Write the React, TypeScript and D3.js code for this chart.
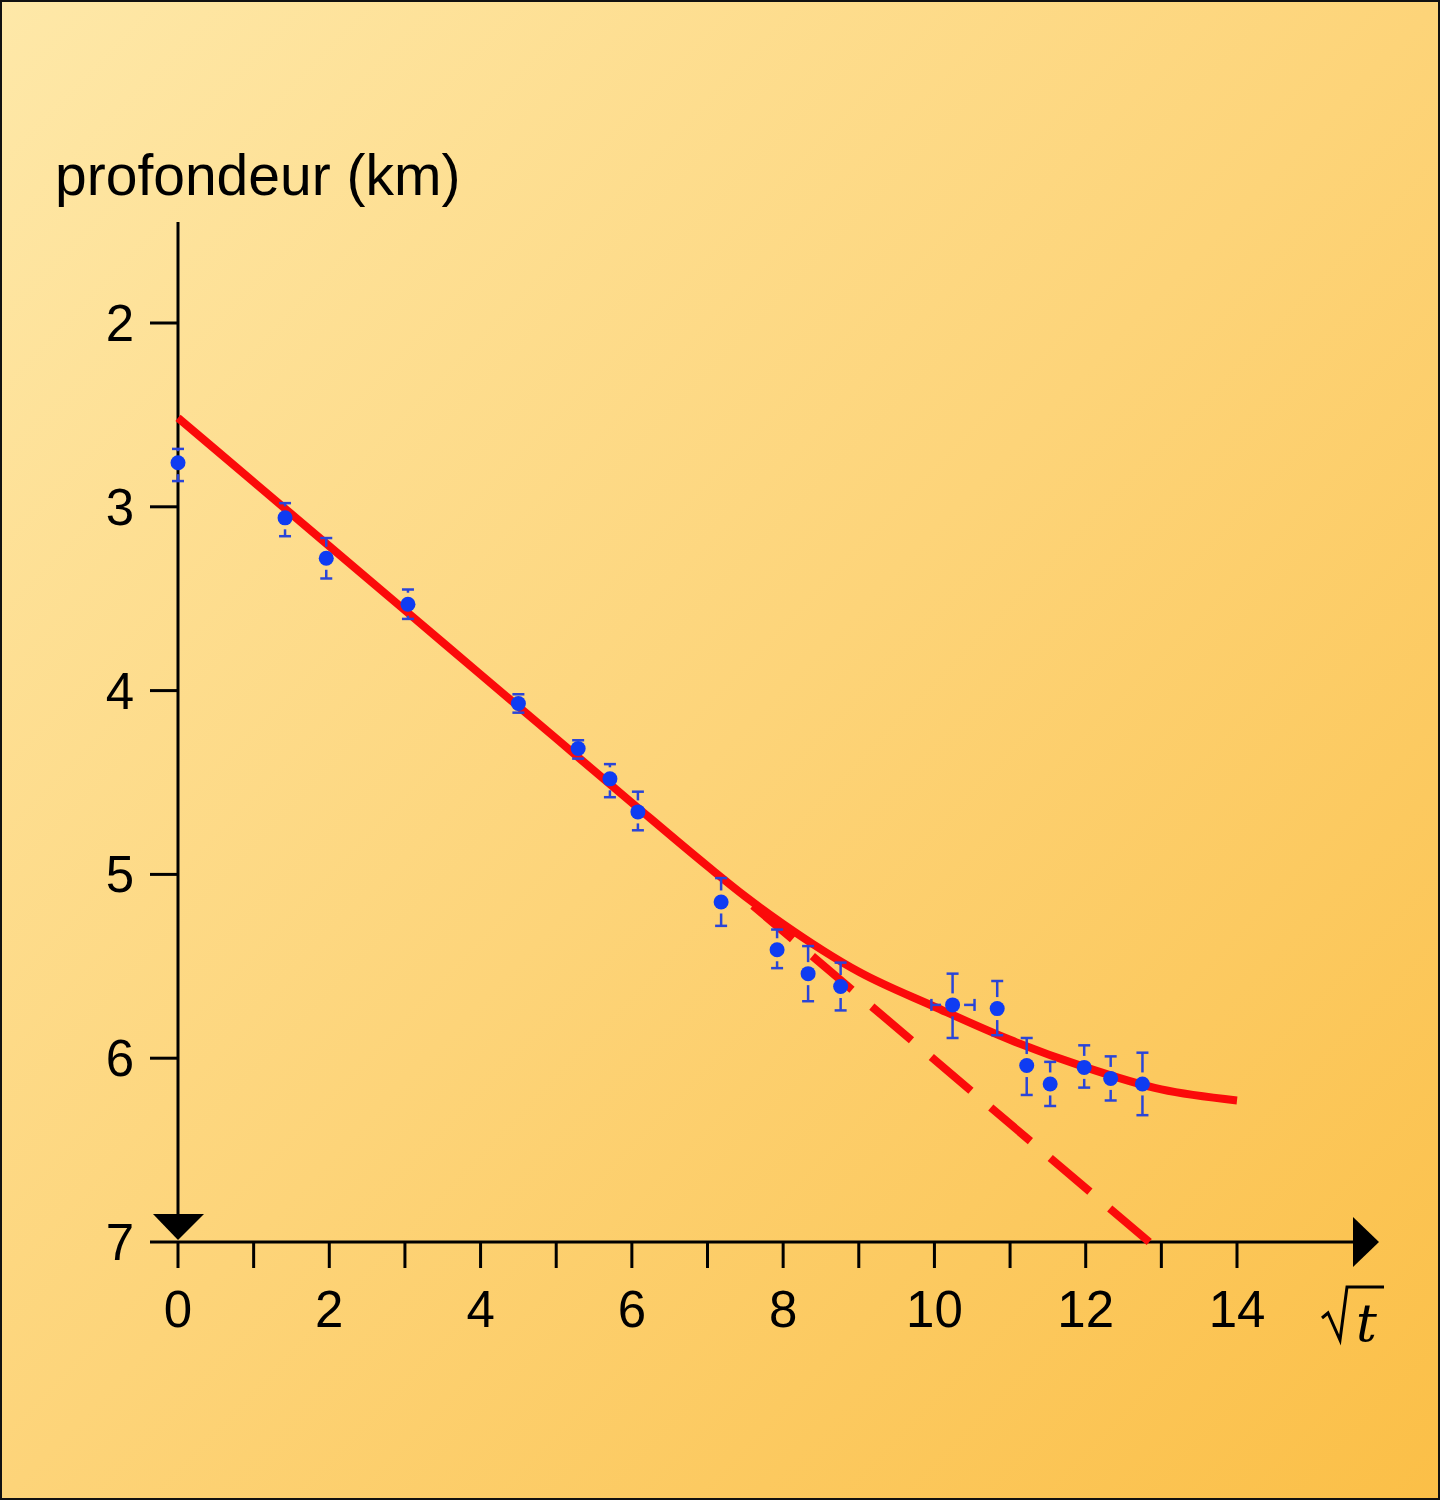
import * as d3 from "d3"
import { useRef, useEffect } from "react"

// sqrt(t) values of the measurements and their depths (km)
const sqrtT = [0, 1.415, 1.96, 3.04, 4.5, 5.29, 5.71, 6.08, 7.18, 7.92, 8.33, 8.76, 10.24, 10.83, 11.22, 11.53, 11.98, 12.33, 12.75]
const depth = [2.76, 3.06, 3.28, 3.53, 4.07, 4.315, 4.48, 4.66, 5.15, 5.41, 5.54, 5.61, 5.71, 5.73, 6.04, 6.14, 6.05, 6.11, 6.14]
const depthLow = [2.685, 2.98, 3.17, 3.45, 4.02, 4.27, 4.4, 4.55, 5.02, 5.3, 5.39, 5.48, 5.54, 5.58, 5.89, 6.02, 5.93, 5.99, 5.97]
const depthHigh = [2.86, 3.16, 3.39, 3.61, 4.12, 4.37, 4.58, 4.76, 5.28, 5.51, 5.69, 5.74, 5.89, 5.875, 6.2, 6.26, 6.16, 6.23, 6.31]
// horizontal error bar (only one point has it)
const xErrIndex = 12
const xErrRange = [9.96, 10.53]

// fitted curve
const curveX = [0, 1, 2, 3, 4, 5, 6, 7, 7.5, 8, 9, 10, 11, 12, 13, 14]
const curveY = [2.516, 2.865, 3.214, 3.563, 3.912, 4.261, 4.61, 4.955, 5.12, 5.27, 5.53, 5.72, 5.9, 6.05, 6.17, 6.23]

// linear extension (dashed)
const lineX = [7.6, 12.84]
const lineY = [5.17, 7.0]

const xTicks = d3.range(0, 15)
const xLabels = [0, 2, 4, 6, 8, 10, 12, 14]
const yTicks = [2, 3, 4, 5, 6]
const yLabels = [2, 3, 4, 5, 6, 7]

const W = 1440
const H = 1500

export default function App() {
  const svgRef = useRef<SVGSVGElement>(null)

  useEffect(() => {
    if (!svgRef.current) return
    const svg = d3.select(svgRef.current)
    svg.selectAll("*").remove()

    const x = d3.scaleLinear().domain([0, 14]).range([178, 1237])
    const y = d3.scaleLinear().domain([2, 7]).range([323, 1242])
    const font = "'Liberation Sans', Arial, sans-serif"

    const defs = svg.append("defs")
    const grad = defs
      .append("linearGradient")
      .attr("id", "bg")
      .attr("x1", 0)
      .attr("y1", 0)
      .attr("x2", 1)
      .attr("y2", 1)
    grad.append("stop").attr("offset", "0%").attr("stop-color", "#fee8a8")
    grad.append("stop").attr("offset", "50%").attr("stop-color", "#fdd479")
    grad.append("stop").attr("offset", "100%").attr("stop-color", "#fbbf47")

    svg
      .append("rect")
      .attr("x", 1)
      .attr("y", 1)
      .attr("width", W - 2)
      .attr("height", H - 2)
      .attr("fill", "url(#bg)")
      .attr("stroke", "#111")
      .attr("stroke-width", 2)

    // Axes
    const axes = svg.append("g").attr("stroke", "#000").attr("stroke-width", 3)
    axes
      .append("line")
      .attr("x1", x(0))
      .attr("x2", x(0))
      .attr("y1", 222)
      .attr("y2", y(7) - 26)
    axes
      .append("line")
      .attr("x1", x(0) - 28)
      .attr("x2", 1356)
      .attr("y1", y(7))
      .attr("y2", y(7))

    axes
      .selectAll(".xt")
      .data(xTicks)
      .join("line")
      .attr("x1", (d) => x(d))
      .attr("x2", (d) => x(d))
      .attr("y1", y(7))
      .attr("y2", y(7) + 26)

    axes
      .selectAll(".yt")
      .data(yTicks)
      .join("line")
      .attr("x1", x(0) - 28)
      .attr("x2", x(0))
      .attr("y1", (d) => y(d))
      .attr("y2", (d) => y(d))

    // arrow heads
    const ax0 = x(0)
    const ay7 = y(7)
    svg
      .append("path")
      .attr("d", `M${ax0 - 25},${ay7 - 28}L${ax0 + 26},${ay7 - 28}L${ax0},${ay7 - 2}Z`)
      .attr("fill", "#000")
    svg
      .append("path")
      .attr("d", `M1353,${ay7 - 25}L1379,${ay7}L1353,${ay7 + 25}Z`)
      .attr("fill", "#000")

    // tick labels
    svg
      .append("g")
      .attr("font-family", font)
      .attr("font-size", 51)
      .attr("text-anchor", "middle")
      .selectAll("text")
      .data(xLabels)
      .join("text")
      .attr("x", (d) => x(d))
      .attr("y", 1327)
      .text((d) => d)

    svg
      .append("g")
      .attr("font-family", font)
      .attr("font-size", 51)
      .attr("text-anchor", "middle")
      .selectAll("text")
      .data(yLabels)
      .join("text")
      .attr("x", 120)
      .attr("y", (d) => y(d) + 18)
      .text((d) => d)

    svg
      .append("text")
      .attr("x", 55)
      .attr("y", 195)
      .attr("font-family", font)
      .attr("font-size", 57)
      .attr("fill", "#000")
      .text("profondeur (km)")

    // sqrt(t) label
    svg
      .append("path")
      .attr("d", "M1322,1318L1328,1313L1340,1340L1347,1287L1384,1287")
      .attr("fill", "none")
      .attr("stroke", "#000")
      .attr("stroke-width", 3)
    svg
      .append("text")
      .attr("x", 1356)
      .attr("y", 1341)
      .attr("font-family", "'DejaVu Serif', 'Liberation Serif', serif")
      .attr("font-style", "italic")
      .attr("font-size", 52)
      .text("t")

    // dashed linear extension
    svg
      .append("path")
      .attr(
        "d",
        d3
          .line<number>()
          .x((d) => x(d))
          .y((_, i) => y(lineY[i]))(lineX),
      )
      .attr("fill", "none")
      .attr("stroke", "#fb0a0a")
      .attr("stroke-width", 8)
      .attr("stroke-dasharray", "52 26")

    // fitted curve
    svg
      .append("path")
      .attr(
        "d",
        d3
          .line<number>()
          .x((d) => x(d))
          .y((_, i) => y(curveY[i]))
          .curve(d3.curveMonotoneX)(curveX),
      )
      .attr("fill", "none")
      .attr("stroke", "#fb0a0a")
      .attr("stroke-width", 8)

    // error bars
    const r = 7.5
    const gap = 4
    const eb = svg
      .append("g")
      .attr("stroke", "#2a45d8")
      .attr("stroke-width", 2.5)
      .attr("fill", "none")
    sqrtT.forEach((t, i) => {
      const cx = x(t)
      const cy = y(depth[i])
      const top = y(depthLow[i])
      const bot = y(depthHigh[i])
      const cap = 6
      eb.append("line").attr("x1", cx - cap).attr("x2", cx + cap).attr("y1", top).attr("y2", top)
      eb.append("line").attr("x1", cx - cap).attr("x2", cx + cap).attr("y1", bot).attr("y2", bot)
      if (cy - r - gap > top)
        eb.append("line").attr("x1", cx).attr("x2", cx).attr("y1", top).attr("y2", cy - r - gap)
      if (cy + r + gap < bot)
        eb.append("line").attr("x1", cx).attr("x2", cx).attr("y1", cy + r + gap).attr("y2", bot)
      if (i === xErrIndex) {
        const left = x(xErrRange[0])
        const right = x(xErrRange[1])
        eb.append("line").attr("x1", left).attr("x2", left).attr("y1", cy - cap).attr("y2", cy + cap)
        eb.append("line").attr("x1", right).attr("x2", right).attr("y1", cy - cap).attr("y2", cy + cap)
        eb.append("line").attr("x1", left).attr("x2", cx - r - gap).attr("y1", cy).attr("y2", cy)
        eb.append("line").attr("x1", cx + r + gap).attr("x2", right).attr("y1", cy).attr("y2", cy)
      }
    })

    // points
    svg
      .append("g")
      .attr("fill", "#0f3cf2")
      .selectAll("circle")
      .data(sqrtT)
      .join("circle")
      .attr("cx", (d) => x(d))
      .attr("cy", (_, i) => y(depth[i]))
      .attr("r", r)
  }, [])

  return (
    <div style={{ position: "absolute", left: 0, top: 0 }}>
      <svg ref={svgRef} width={W} height={H} style={{ display: "block" }}></svg>
    </div>
  )
}
